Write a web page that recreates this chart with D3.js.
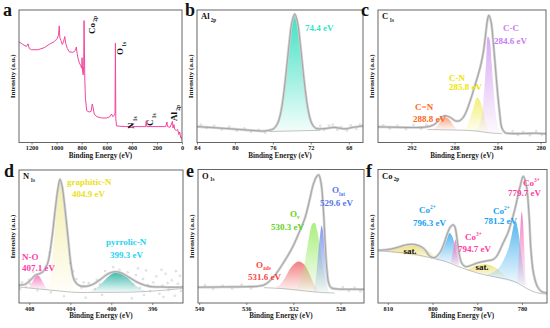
<!DOCTYPE html>
<html>
<head>
<meta charset="utf-8">
<script src="https://cdn.jsdelivr.net/npm/d3@7"></script>
<style>
body{margin:0;background:#fff;}
</style>
</head>
<body>
<svg id="fig" width="550" height="328"></svg>
<script>
// ---- data (binding energy in eV, intensity in % of panel height) ----
const surveyTicks = [1200,1000,800,600,400,200,0];
const alTicks = [84,80,76,72,68];
const cTicks = [292,288,284,280];
const nTicks = [408,404,400,396];
const oTicks = [540,536,532,528];
const coTicks = [810,800,790,780];

const surveyCurve = [[1300,76],[1270,74],[1240,72.5],[1228,74.5],[1218,71],[1200,70],[1150,70],[1100,71.5],[1060,74],[1020,76],[995,78.5],[985,81],[979,88],[974,79],[965,77],[955,74],[945,76],[935,80],[928,75],[915,71],[900,68.5],[870,68],[850,69.5],[843,72],[836,67],[828,63],[818,60],[808,58],[800,56],[797,64],[793,54],[788,51],[784,58],[781,92],[778,68],[775,47],[770,33],[760,24],[740,23],[725,23.5],[716,29],[710,27],[700,21.5],[680,19.5],[640,18.5],[600,18.5],[575,19.5],[562,21.5],[552,19.5],[540,20.5],[534,22],[531,75],[528,18],[522,12.5],[450,12],[405,12],[400,14.5],[395,12],[290,12],[285,16.5],[281,12],[130,12],[120,15.5],[116,12],[95,11.5],[76,16],[72,11],[64,13.5],[58,10],[45,9],[35,10],[25,6],[18,8],[10,3.5],[4,4],[0,2]];
const surveyPeaks = [["Co","2p"],["O","1s"],["N","1s"],["C","1s"],["Al","2p"]];

const alEnergies = [74.4];
const al2pFit = [[84,12],[82.5,11.3],[81,10.6],[79.5,9.8],[78,9],[77,8.6],[76.4,9.2],[75.9,10.5],[75.5,14.5],[75.2,21.5],[74.9,34.5],[74.6,53],[74.3,73.5],[74,90.5],[73.7,97],[73.4,90.5],[73.1,73.5],[72.8,53],[72.5,34.5],[72.2,21.5],[71.9,14.5],[71.5,10.8],[71,10.3],[70.2,10.8],[69.5,11.4],[68.5,10.3],[67.5,11.5],[66.5,12.5]];
const al2pPeak = [[76.4,8.3],[75.9,9.6],[75.5,13.5],[75.2,20.5],[74.9,33.5],[74.6,52],[74.3,72.5],[74,89.5],[73.7,96],[73.4,89.5],[73.1,72.5],[72.8,52],[72.5,33.5],[72.2,20.5],[71.9,13.5],[71.5,10],[71,9.2]];
const al2pBg = [[76.4,8.3],[71,9.2]];
const al2pNoise = [[83.6,13.5],[83,11],[82.2,12.6],[81.4,9.8],[80.6,11.9],[79.8,8.9],[79,10.6],[78.3,8],[77.5,9.6],[76.8,7.4],[71,12.6],[70.6,9.4],[70.1,12.8],[69.7,13.5],[69.2,9.6],[68.8,11.8],[68.2,9],[67.8,12.9],[67.2,10.2],[66.8,13.6]];

const c1sNames = ["C-C","C-N","C=N"];
const c1sEnergies = [284.6,285.8,288.8];
const c1sFit = [[295.1,11.8],[294,11.6],[293,11.4],[292,11.3],[291,11.4],[290.3,12.2],[289.8,14],[289.3,18],[288.9,20.2],[288.4,19],[287.9,16.3],[287.5,16.5],[287.1,20],[286.6,30],[286.1,43],[285.6,57],[285.3,69],[285.1,82],[284.9,94],[284.8,96],[284.6,91],[284.4,76],[284.2,57],[284,38],[283.8,22],[283.6,11],[283.3,7.5],[282.8,6.8],[281.5,6.8],[280.5,7],[279.5,6.6]];
const c1sBg = [[290.5,9.8],[288.5,9.5],[287,9.2],[286,8.7],[285.2,7.8],[284.5,7.1],[283.6,6.7]];
const c1sCC = [[286.2,8.7],[285.8,11],[285.5,19],[285.25,38],[285.05,62],[284.9,80],[284.75,78],[284.55,60],[284.35,38],[284.1,18],[283.85,9.5],[283.6,6.8]];
const c1sCN = [[287.2,9.1],[286.8,13],[286.4,22],[286.1,30],[285.9,34],[285.6,31],[285.3,22],[285,12.5],[284.7,7.5]];
const c1sCeqN = [[290,9.8],[289.6,12.5],[289.2,17],[288.9,19],[288.5,17.5],[288.1,13],[287.7,9.5]];
const c1sNoise = [[294.6,13],[294,10.5],[293.3,12.8],[292.5,10],[291.8,13.2],[291.1,10.4],[290.6,13.4],[282.6,8.4],[282.1,5.6],[281.6,8],[281,5.4],[280.4,8.6],[279.9,5.8]];

const n1sNames = ["graphitic-N","N-O","pyrrolic-N"];
const n1sEnergies = [404.9,407.1,399.3];
const n1sFit = [[409,13.5],[408.4,14],[407.9,17],[407.4,21],[407,22],[406.6,24],[406.2,30],[405.8,48],[405.5,68],[405.2,86],[405,93],[404.8,88],[404.5,70],[404.2,48],[403.9,27],[403.6,17],[403.2,13.5],[402.5,12.5],[401.8,14],[401,18],[400.3,22],[399.6,23.5],[399,22.5],[398.2,19],[397.3,15],[396.3,12.5],[395,12],[394,11.8],[393,12]];
const n1sBg = [[409,12],[407,10.5],[405,9],[403.5,8],[401,8],[398,8.2],[395,9.5],[393,11]];
const n1sGraph = [[406.5,9.8],[406.1,15],[405.8,30],[405.5,55],[405.2,80],[405,90],[404.8,85],[404.5,66],[404.2,42],[403.9,22],[403.6,12],[403.3,8.2]];
const n1sNO = [[408.1,11.2],[407.8,14],[407.5,19],[407.3,21],[407,20],[406.7,16],[406.4,12],[406.1,10]];
const n1sPyr = [[402.2,8],[401.5,11],[400.8,16],[400.1,21],[399.5,23.5],[398.9,22],[398.2,17.5],[397.5,12.5],[396.8,9.5],[396.3,8.8]];
const n1sNoise = [[408.7,15.5],[408.3,12],[407.9,14.5],[407.6,23.5],[406.9,25],[406.4,27.5],[404,30],[403.4,18],[402.9,11.5],[402.2,15],[401.6,10.5],[401.1,14],[400.6,24],[400.2,19],[399.8,27],[399.2,25],[398.8,19.5],[398.4,23],[397.9,14],[397.6,21],[397.2,11.5],[396.9,18],[396.6,24.5],[396.2,9],[395.9,15.5],[395.6,20],[395.3,7],[395,13],[394.7,22],[394.4,10],[394.1,17],[393.8,5.5],[393.5,14.5],[393.3,20.5],[404.6,5],[402.5,4],[398,3.5],[400.9,6],[407.2,9.5],[405.9,8],[408.9,10.5],[408,17.5],[406,38],[403.7,24],[402.7,15.5],[401.4,17.5],[399.5,17],[397.4,26],[396.4,13.5],[395.1,25],[394.5,15],[393.7,24],[393.2,9],[394.9,4.5],[396.8,6]];

const o1sNames = [["O","lat"],["O","v"],["O","ads"]];
const o1sEnergies = [529.6,530.3,531.6];
const o1sFit = [[540.1,11.8],[538,12],[536,12.2],[535,12.6],[534.5,13.5],[534,16.5],[533.5,21.5],[533,28],[532.5,35],[532,43],[531.5,53],[531,64],[530.6,78],[530.3,89],[530,95],[529.85,96],[529.65,90],[529.45,70],[529.3,45],[529.15,25],[529,15],[528.8,11.5],[528.3,10.5],[527,10.3],[526,10.2]];
const o1sBg = [[534.5,11.5],[533,10.8],[531.5,9.5],[530.5,8.5],[529.5,7.8],[528.5,7.5]];
const o1sAds = [[533.5,11],[533.1,14],[532.7,19],[532.2,26.5],[531.6,31],[531.1,29],[530.7,23],[530.3,15],[529.9,8.5]];
const o1sOv = [[531.8,10],[531.4,17],[531,32],[530.7,48],[530.4,59],[530.2,60],[530,55],[529.7,40],[529.4,22],[529.15,11],[529,8]];
const o1sOlat = [[530.3,8.5],[530.1,18],[529.9,36],[529.7,53],[529.6,58],[529.45,52],[529.3,35],[529.15,18],[529,9],[528.9,7.8]];
const o1sNoise = [[539.5,13.3],[538.8,10.6],[538,13],[537.2,10.8],[536.4,13.6],[535.6,11],[527.8,11.8],[527.3,9],[526.8,11.6],[526.3,8.8]];

const co2pNames = [["Co","3+"],["Co","2+"],["Co","2+"],["Co","3+"]];
const co2pEnergies = [779.7,781.2,796.3,794.7];
const co2pFit = [[812.2,39.5],[810,40],[808,41.5],[806,43.5],[804,43.8],[802,41],[800.6,35],[799.5,34],[798.3,38],[797.5,44],[796.8,51],[796,57],[795.4,58.6],[795,57],[794.6,50],[794.2,40],[793.5,30],[792.7,27.3],[791.5,28],[790,30],[788,31.5],[786.5,32.5],[785.7,34.8],[784.2,45],[783.2,52],[782.7,57],[781.6,70],[780.4,87.5],[779.7,95],[779,87.5],[778.4,65],[778,40],[777.4,22],[776.5,12],[775.6,8.5],[774.4,7.5]];
const co2pBg = [[812.2,39],[805,37],[800,33.5],[797,31],[794,27],[790,22.5],[786,19.5],[783,17.5],[781,15],[779,11],[777,8],[774.4,6.5]];
const co2pSat1 = [[810.5,38.5],[809,40],[807.5,41.5],[806,42.3],[804.5,42.8],[803,42],[801.5,40],[800,36.5],[798.8,32.5]];
const co2pCo2a = [[799.5,32.5],[798.5,35],[797.5,42],[796.8,48],[796.2,52.5],[795.6,50],[795,43],[794.5,35],[794,28.5]];
const co2pCo3a = [[795.9,30],[795.5,38],[795.1,45],[794.8,47.5],[794.5,43],[794.2,34],[793.9,27]];
const co2pSat2 = [[792.5,24.5],[791,27],[789.5,28.5],[788,29],[786.5,27.5],[785,24],[783.5,19]];
const co2pCo2b = [[788,21],[786.5,23],[785,27],[784,33],[783,41],[782.3,51],[781.7,60],[781.4,61],[780.9,55],[780.3,40],[779.7,25],[779.2,13]];
const co2pCo3b = [[781,16],[780.6,40],[780.3,60],[780.05,68.5],[779.8,62],[779.5,42],[779.2,20],[778.9,12]];

// ---- layout ----
const serif = '"Liberation Serif","Times New Roman",serif';
const svg = d3.select("#fig");
const defs = svg.append("defs");

const panels = {
	a: {left:19, right:182, top:10, bottom:142.5, xDomain:[1300,0], ticks:surveyTicks, lx:3, ly:15.5},
	b: {left:197, right:363, top:10, bottom:142.5, xDomain:[84,66.5], ticks:alTicks, lx:185, ly:15.5},
	c: {left:378, right:546, top:10, bottom:142.5, xDomain:[295.1,279.5], ticks:cTicks, lx:361, ly:15.5},
	d: {left:19, right:183, top:170, bottom:303, xDomain:[409,393], ticks:nTicks, lx:4, ly:177},
	e: {left:198, right:364, top:169.5, bottom:303, xDomain:[540.1,526], ticks:oTicks, lx:186, ly:177},
	f: {left:378, right:547, top:169.5, bottom:303, xDomain:[812.2,774.4], ticks:coTicks, lx:366, ly:177}
};

function makeGrad(id, color){
	var gr = defs.append("linearGradient").attr("id", id)
		.attr("x1",0).attr("y1",0).attr("x2",0).attr("y2",1);
	gr.append("stop").attr("offset","0%").attr("stop-color",color).attr("stop-opacity",0.95);
	gr.append("stop").attr("offset","100%").attr("stop-color",color).attr("stop-opacity",0.06);
}

// text with optional sub/superscript parts: [[str, shift]] shift: 0 normal, 1 sub, -1 sup
function richText(g, x, y, parts, color, size, anchor){
	var t = g.append("text").attr("x",x).attr("y",y)
		.attr("font-family",serif).attr("font-weight","bold")
		.attr("font-size",size).attr("fill",color)
		.attr("text-anchor", anchor || "start");
	var cur = 0;
	parts.forEach(function(p){
		var off = p[1] == 1 ? size*0.3 : (p[1] == -1 ? -size*0.4 : 0);
		t.append("tspan").text(p[0])
			.attr("dy", off - cur)
			.attr("font-size", p[1] ? size*0.6 : size);
		cur = off;
	});
	return t;
}

function setupPanel(key){
	var p = panels[key];
	var x = d3.scaleLinear().domain(p.xDomain).range([p.left, p.right]);
	var y = d3.scaleLinear().domain([0,100]).range([p.bottom, p.top]);
	defs.append("clipPath").attr("id","clip_"+key).append("rect")
		.attr("x",p.left).attr("y",p.top)
		.attr("width",p.right-p.left).attr("height",p.bottom-p.top);
	var g = svg.append("g");
	var plot = g.append("g").attr("clip-path","url(#clip_"+key+")");

	var axis = d3.axisBottom(x).tickValues(p.ticks)
		.tickSizeInner(2).tickSizeOuter(0).tickPadding(1.5)
		.tickFormat(d3.format("d"));
	var ax = g.append("g").attr("transform","translate(0,"+p.bottom+")").call(axis);
	ax.select(".domain").remove();
	ax.selectAll("text").attr("font-family",serif).attr("font-weight","bold")
		.attr("font-size",6.3).attr("fill","#222");
	ax.selectAll("line").attr("stroke","#555").attr("stroke-width",0.7);

	g.append("text").attr("x",(p.left+p.right)/2).attr("y",p.bottom+15)
		.attr("text-anchor","middle").attr("font-family",serif).attr("font-weight","bold")
		.attr("font-size",7.2).attr("fill","#222").text("Binding Energy (eV)");
	g.append("text")
		.attr("transform","translate("+(p.left-3.6)+","+((p.top+p.bottom)/2)+") rotate(-90)")
		.attr("text-anchor","middle").attr("font-family",serif).attr("font-weight","bold")
		.attr("font-size",7).attr("fill","#222").text("Intensity (a.u.)");

	svg.append("text").attr("x",p.lx).attr("y",p.ly)
		.attr("font-family",serif).attr("font-weight","bold")
		.attr("font-size",18).attr("fill","#111").text(key);

	return {p:p, x:x, y:y, g:g, plot:plot};
}

function closeFrame(P){
	var p = P.p;
	P.g.append("rect").attr("x",p.left).attr("y",p.top)
		.attr("width",p.right-p.left).attr("height",p.bottom-p.top)
		.attr("fill","none").attr("stroke","#555").attr("stroke-width",0.9);
}

function lineGen(P, curve){
	return d3.line().x(function(d){return P.x(d[0]);}).y(function(d){return P.y(d[1]);})
		.curve(curve || d3.curveCatmullRom.alpha(0.5));
}

var gradNo = 0;
function drawPeak(P, pts, color){
	var gid = "grad" + (gradNo++);
	makeGrad(gid, color);
	P.plot.append("path").attr("d", lineGen(P)(pts) + "Z")
		.attr("fill","url(#"+gid+")").attr("stroke","none");
}

function drawBg(P, pts){
	P.plot.append("path").attr("d", lineGen(P)(pts))
		.attr("fill","none").attr("stroke","#a8a8a8").attr("stroke-width",0.7);
}

function drawFit(P, pts, noise){
	P.plot.append("path").attr("d", lineGen(P)(pts))
		.attr("fill","none").attr("stroke","#d0d0d0").attr("stroke-width",2.6);
	P.plot.selectAll("circle.noise").data(noise).enter().append("circle")
		.attr("class","noise")
		.attr("cx",function(d){return P.x(d[0]);})
		.attr("cy",function(d){return P.y(d[1]);})
		.attr("r",0.9).attr("fill","none").attr("stroke","#b8b8b8").attr("stroke-width",0.5);
	P.plot.append("path").attr("d", lineGen(P)(pts))
		.attr("fill","none").attr("stroke","#909090").attr("stroke-width",0.7);
}

function elemLabel(P, parts){
	richText(P.g, P.p.left+4, P.p.top+9, [[parts[0],0],[" "+parts[1],1]], "#111", 8.5);
}

function fmtE(e){ return e.toFixed(1) + " eV"; }

// ---- panel a: survey ----
(function(){
	var P = setupPanel("a");
	P.plot.append("path").attr("d", lineGen(P, d3.curveLinear)(surveyCurve))
		.attr("fill","none").attr("stroke","#f2469e").attr("stroke-width",1);
	var spots = [[94.5,34],[123,55],[134,129],[153,126],[177,121]];
	surveyPeaks.forEach(function(s,i){
		var t = richText(P.g, 0, 0, [[s[0],0],[" "+s[1],1]], "#111", 9);
		t.attr("transform","translate("+spots[i][0]+","+spots[i][1]+") rotate(-90)");
	});
	closeFrame(P);
})();

// ---- panel b: Al 2p ----
(function(){
	var P = setupPanel("b");
	drawPeak(P, al2pPeak, "#35e0c0");
	drawBg(P, al2pBg);
	drawFit(P, al2pFit, al2pNoise);
	elemLabel(P, ["Al","2p"]);
	richText(P.g, 305, 31, [[fmtE(alEnergies[0]),0]], "#33e6c6", 9);
	closeFrame(P);
})();

// ---- panel c: C 1s ----
(function(){
	var P = setupPanel("c");
	drawPeak(P, c1sCeqN, "#f7a07a");
	drawPeak(P, c1sCN, "#f2ee70");
	drawPeak(P, c1sCC, "#d7a6f2");
	drawBg(P, c1sBg);
	drawFit(P, c1sFit, c1sNoise);
	elemLabel(P, ["C","1s"]);
	var cols = ["#c77cf2","#f0e400","#ff6620"];
	var pos = [[[503,30.5],[494,43.5]],[[449,80.5],[449,90]],[[415,110],[413,121.5]]];
	c1sNames.forEach(function(n,i){
		richText(P.g, pos[i][0][0], pos[i][0][1], [[n,0]], cols[i], 9);
		richText(P.g, pos[i][1][0], pos[i][1][1], [[fmtE(c1sEnergies[i]),0]], cols[i], 9);
	});
	closeFrame(P);
})();

// ---- panel d: N 1s ----
(function(){
	var P = setupPanel("d");
	drawPeak(P, n1sGraph, "#f3eea8");
	drawPeak(P, n1sNO, "#f27cc4");
	drawPeak(P, n1sPyr, "#2fb5a8");
	drawBg(P, n1sBg);
	drawFit(P, n1sFit, n1sNoise);
	elemLabel(P, ["N","1s"]);
	var cols = ["#ece020","#ff3da8","#1fd3ef"];
	var pos = [[[67,185],[72,196.5]],[[22,260],[22,270.5]],[[106,245],[110,258]]];
	n1sNames.forEach(function(n,i){
		richText(P.g, pos[i][0][0], pos[i][0][1], [[n,0]], cols[i], 9);
		richText(P.g, pos[i][1][0], pos[i][1][1], [[fmtE(n1sEnergies[i]),0]], cols[i], 9);
	});
	closeFrame(P);
})();

// ---- panel e: O 1s ----
(function(){
	var P = setupPanel("e");
	drawPeak(P, o1sAds, "#f07a7a");
	drawPeak(P, o1sOv, "#a5ee78");
	drawPeak(P, o1sOlat, "#7f95f0");
	drawBg(P, o1sBg);
	drawFit(P, o1sFit, o1sNoise);
	elemLabel(P, ["O","1s"]);
	var cols = ["#5577ee","#5fd414","#ff4444"];
	var pos = [[[332,193],[320,206]],[[290,216.5],[271,230]],[[256,267.5],[248,279.5]]];
	o1sNames.forEach(function(n,i){
		richText(P.g, pos[i][0][0], pos[i][0][1], [[n[0],0],[n[1],1]], cols[i], 9);
		richText(P.g, pos[i][1][0], pos[i][1][1], [[fmtE(o1sEnergies[i]),0]], cols[i], 9);
	});
	closeFrame(P);
})();

// ---- panel f: Co 2p ----
(function(){
	var P = setupPanel("f");
	drawPeak(P, co2pSat1, "#eee07a");
	drawPeak(P, co2pSat2, "#eee07a");
	drawPeak(P, co2pCo2a, "#4fb4ee");
	drawPeak(P, co2pCo2b, "#4fb4ee");
	drawPeak(P, co2pCo3a, "#f27cc0");
	drawPeak(P, co2pCo3b, "#f27cc0");
	drawBg(P, co2pBg);
	drawFit(P, co2pFit, []);
	elemLabel(P, ["Co","2p"]);
	var cols = ["#ff3da0","#169ff0","#169ff0","#ff3da0"];
	var pos = [[[523,186],[508,196]],[[493,213.5],[484,224]],[[419,213],[413,225.5]],[[465,239.5],[458,252]]];
	co2pNames.forEach(function(n,i){
		richText(P.g, pos[i][0][0], pos[i][0][1], [[n[0],0],[n[1],-1]], cols[i], 9);
		richText(P.g, pos[i][1][0], pos[i][1][1], [[fmtE(co2pEnergies[i]),0]], cols[i], 9);
	});
	richText(P.g, 410, 254, [["sat.",0]], "#111", 9, "middle");
	richText(P.g, 482, 270, [["sat.",0]], "#111", 9, "middle");
	closeFrame(P);
})();
</script>
</body>
</html>
